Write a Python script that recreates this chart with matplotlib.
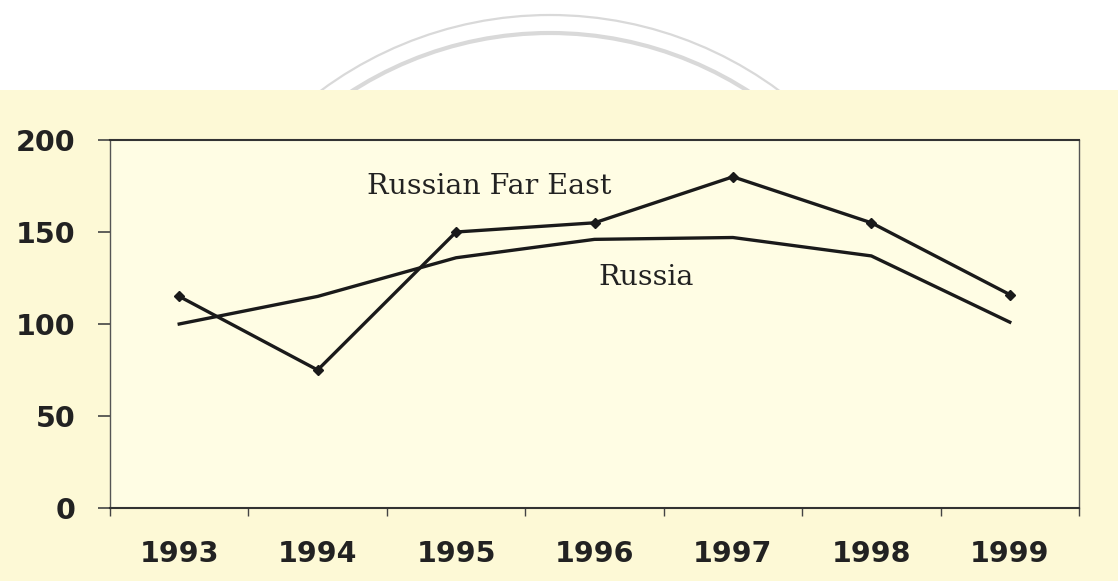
import matplotlib
matplotlib.use("Agg")
import matplotlib.pyplot as plt
from matplotlib.patches import Arc, Rectangle
import numpy as np

# data
years = ["1993", "1994", "1995", "1996", "1997", "1998", "1999"]
far_east = [115, 75, 150, 155, 180, 155, 116]
russia = [100, 115, 136, 146, 147, 137, 101]
y_ticks = [0, 50, 100, 150, 200]

W, H = 1118, 581
fig = plt.figure(figsize=(W / 100, H / 100), dpi=100)
fig.patch.set_facecolor("white")

# faint seal watermark in the white strip, then the yellowed page over it
wm = fig.add_axes([0, 0, 1, 1])
wm.set_xlim(0, W)
wm.set_ylim(H, 0)
wm.axis("off")
wm.add_patch(Arc((550, 400), 770, 770, theta1=180, theta2=360,
                 color="#d9d9d9", lw=1.6))
wm.add_patch(Arc((550, 400), 734, 734, theta1=180, theta2=360,
                 color="#d9d9d9", lw=3.0))
wm.add_patch(Rectangle((0, 90), W, H - 90, facecolor="#fdf9d6",
                       edgecolor="none", zorder=3))

ax = fig.add_axes([110 / W, 1 - 508 / H, 969 / W, 368 / H], zorder=2)
ax.set_facecolor("#fffde4")

x = np.arange(len(years))
ax.plot(x, far_east, color="#1a1a1a", lw=2.4, marker="D", ms=5.5,
        solid_joinstyle="miter")
ax.plot(x, russia, color="#1a1a1a", lw=2.4)

ax.set_xlim(-0.5, len(years) - 0.5)
ax.set_ylim(0, 200)

# boundary ticks between categories, labels centred under each year
ax.set_xticks(np.arange(-0.5, len(years)), labels=[])
ax.set_xticks(x, labels=years, minor=True)
ax.tick_params(axis="x", which="major", direction="out", length=6,
               width=1.0, color="#444")
ax.tick_params(axis="x", which="minor", length=0, pad=23)
ax.set_yticks(y_ticks)
ax.tick_params(axis="y", direction="out", length=9, width=1.2,
               color="#444", pad=16)

for lab in ax.get_xticklabels(minor=True) + ax.get_yticklabels():
    lab.set_fontfamily("DejaVu Sans")
    lab.set_fontweight("bold")
    lab.set_fontsize(20.5)
    lab.set_color("#222222")

for side in ["left", "right"]:
    ax.spines[side].set_linewidth(1.0)
    ax.spines[side].set_color("#555555")
for side in ["top", "bottom"]:
    ax.spines[side].set_linewidth(1.5)
    ax.spines[side].set_color("#333333")

ax.text(1.36, 175, "Russian Far East", family="DejaVu Serif", fontsize=20.5,
        color="#222222", va="center", ha="left")
ax.text(3.03, 125.5, "Russia", family="DejaVu Serif", fontsize=20.5,
        color="#222222", va="center", ha="left")

fig.savefig("out.png", dpi=100, facecolor=fig.get_facecolor())
